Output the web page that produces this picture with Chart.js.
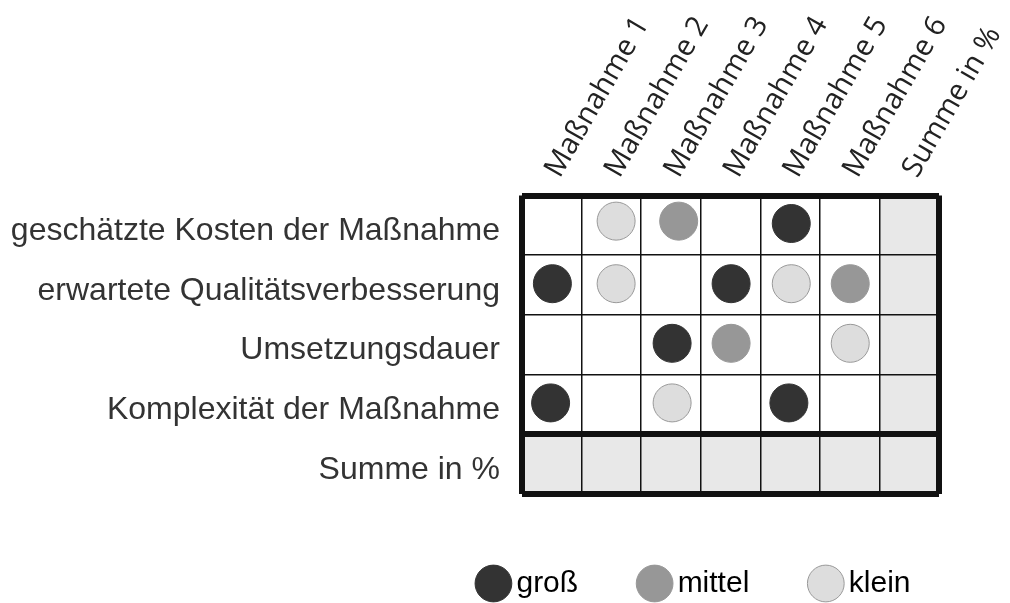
<!DOCTYPE html>
<html>
<head>
<meta charset="utf-8">
<script src="https://cdn.jsdelivr.net/npm/chart.js@4.4.1/dist/chart.umd.min.js"></script>
<style>
html, body { margin: 0; padding: 0; background: #fff; }
canvas { display: block; }
</style>
</head>
<body>
<canvas id="matrix-chart" width="1010" height="603"></canvas>
<script>
// Spalten (oben) und Zeilen (links)
const measures = ['Maßnahme 1', 'Maßnahme 2', 'Maßnahme 3', 'Maßnahme 4', 'Maßnahme 5', 'Maßnahme 6', 'Summe in %'];
const criteria = ['geschätzte Kosten der Maßnahme', 'erwartete Qualitätsverbesserung', 'Umsetzungsdauer', 'Komplexität der Maßnahme', 'Summe in %'];
const levels = ['groß', 'mittel', 'klein'];

// [Spalte, Zeile] je Kreis (Index, leicht verschoben wie im Original)
const grossPoints = [[4.02, -0.03], [0.01, 0.98], [3.01, 0.98], [2.02, 1.98], [-0.02, 2.98], [3.98, 2.98]];
const mittelPoints = [[2.13, -0.07], [5.01, 0.98], [3.01, 1.98]];
const kleinPoints = [[1.08, -0.07], [1.08, 0.98], [4.02, 0.98], [5.01, 1.98], [2.02, 2.98]];

const sumCol = measures.length - 1;
const sumRow = criteria.length - 1;

const toXY = pts => pts.map(p => ({ x: p[0], y: p[1] }));

// graue Summenzellen unter das Raster legen
const summaryCells = {
    id: 'summaryCells',
    beforeDraw(chart) {
        const ctx = chart.ctx;
        const x = chart.scales.x, y = chart.scales.y;
        const cell = function(c, r){
            const x0 = x.getPixelForValue(c - 0.5), x1 = x.getPixelForValue(c + 0.5);
            const y0 = y.getPixelForValue(r - 0.5), y1 = y.getPixelForValue(r + 0.5);
            ctx.fillRect(x0, y0, x1 - x0, y1 - y0);
        };
        ctx.save();
        ctx.fillStyle = '#e8e8e8';
        criteria.forEach((_, r) => cell(sumCol, r));
        measures.forEach((_, c) => cell(c, sumRow));
        ctx.restore();
    }
};

const near = (a, b) => Math.abs(a - b) < 0.01;

const colWidth = function(ctx){
    const v = ctx.tick ? ctx.tick.value : 0;
    return (near(v, -0.5) || near(v, sumCol + 0.5)) ? 6 : 1.5;
};
const rowWidth = function(ctx){
    const v = ctx.tick ? ctx.tick.value : 0;
    return (near(v, -0.5) || near(v, sumRow - 0.5) || near(v, sumRow + 0.5)) ? 6 : 1.5;
};

const makeSet = (label, pts, fill, stroke) => ({
    label: label,
    data: toXY(pts),
    xAxisID: 'x',
    yAxisID: 'y',
    backgroundColor: fill,
    borderColor: stroke,
    borderWidth: 1,
    pointRadius: 19,
    pointHoverRadius: 19
});

const ctx = document.getElementById('matrix-chart').getContext('2d');
const matrixChart = new Chart(ctx, {
    type: 'scatter',
    data: {
        datasets: [
            makeSet(levels[0], grossPoints, '#333333', '#333333'),
            makeSet(levels[1], mittelPoints, '#979797', '#979797'),
            makeSet(levels[2], kleinPoints, '#dddddd', '#999999')
        ]
    },
    options: {
        responsive: false,
        animation: false,
        events: [],
        layout: { padding: { left: 0, right: 31, top: 0, bottom: 0 } },
        plugins: {
            tooltip: { enabled: false },
            legend: {
                position: 'bottom',
                align: 'end',
                maxHeight: 103,
                labels: {
                    usePointStyle: true,
                    pointStyle: 'circle',
                    boxWidth: 16,
                    boxHeight: 26,
                    padding: 68.5,
                    color: '#000',
                    font: { family: 'Liberation Sans', size: 30 }
                }
            }
        },
        scales: {
            x: {
                type: 'linear', position: 'bottom', min: -0.5, max: sumCol + 0.5,
                ticks: { display: false, stepSize: 1 },
                grid: { color: '#111', lineWidth: colWidth, drawTicks: false },
                border: { display: false },
                afterFit: function(s){ s.height = 6.5; s.paddingLeft = 0; s.paddingRight = 0; }
            },
            y: {
                type: 'linear', position: 'right', reverse: true, min: -0.5, max: sumRow + 0.5,
                ticks: { display: false, stepSize: 1 },
                grid: { color: '#111', lineWidth: rowWidth, drawTicks: false },
                border: { display: false },
                afterFit: function(s){ s.width = 40; s.paddingTop = 0; s.paddingBottom = 0; }
            },
            xTop: {
                type: 'category', position: 'top', labels: measures, offset: true,
                grid: { display: false, drawTicks: false },
                border: { display: false },
                ticks: {
                    autoSkip: false, minRotation: 60, maxRotation: 60, padding: 12, labelOffset: 31,
                    color: '#222', font: { family: 'Open Sans', size: 29 }
                },
                afterFit: function(s){ s.height = 195.5; s.paddingLeft = 0; s.paddingRight = 0; }
            },
            yLeft: {
                type: 'category', position: 'left', labels: criteria, offset: true,
                grid: { display: false, drawTicks: false },
                border: { display: false },
                ticks: {
                    autoSkip: false, padding: 22, labelOffset: 6,
                    color: '#333', font: { family: 'Liberation Sans', size: 32 }
                },
                afterFit: function(s){ s.width = 522; s.paddingTop = 0; s.paddingBottom = 0; }
            }
        }
    },
    plugins: [summaryCells]
});
</script>
</body>
</html>
